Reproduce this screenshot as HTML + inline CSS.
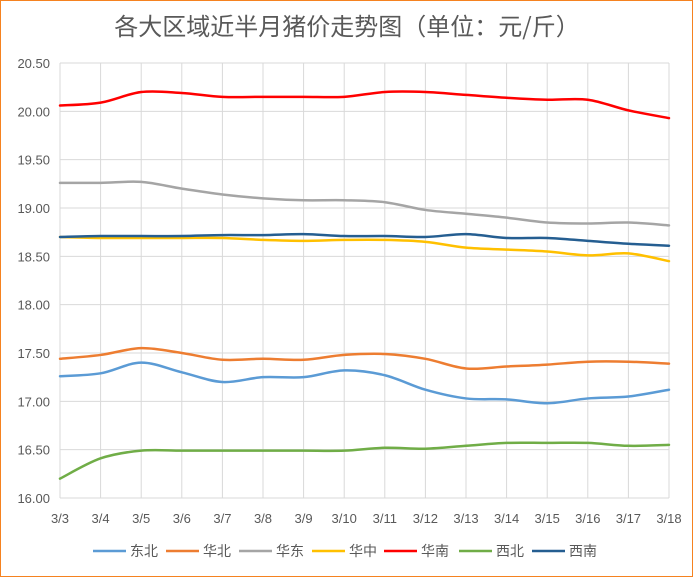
<!DOCTYPE html>
<html><head><meta charset="utf-8"><style>
body{margin:0;background:#fff}
svg{display:block}
text{font-family:"Liberation Sans","Noto Sans CJK SC",sans-serif;fill:#595959}
</style></head><body>
<svg id="s" width="693" height="577" xmlns="http://www.w3.org/2000/svg">
<rect x="0.5" y="0.5" width="692" height="576" fill="#fff" stroke="#F58220" stroke-width="1"/>
<text x="347" y="35" font-size="24" text-anchor="middle" style="font-family:'Noto Sans CJK SC',sans-serif">各大区域近半月猪价走势图（单位：元/斤）</text>
<g id="g"></g>
</svg>
<script>
var L=60,R=669,T=63,B=498;
var g=document.getElementById('g'),h='';
function X(i){return L+(R-L)*i/15}
function Y(v){return B-(v-16)/4.5*(B-T)}
for(var k=0;k<=9;k++){var y=Y(16+k*0.5);h+='<line x1="'+L+'" x2="'+R+'" y1="'+y+'" y2="'+y+'" stroke="#d9d9d9"/>';
h+='<text x="50" y="'+(y+5)+'" font-size="13" text-anchor="end">'+(16+k*0.5).toFixed(2)+'</text>';}
for(var i=0;i<=15;i++){var x=X(i);h+='<line x1="'+x+'" x2="'+x+'" y1="'+T+'" y2="'+B+'" stroke="#d9d9d9"/>';
h+='<text x="'+x+'" y="523" font-size="13" text-anchor="middle">3/'+(i+3)+'</text>';}
var S=[
['#5B9BD5',[17.26,17.29,17.40,17.30,17.20,17.25,17.25,17.32,17.27,17.12,17.03,17.02,16.98,17.03,17.05,17.12]],
['#ED7D31',[17.44,17.48,17.55,17.50,17.43,17.44,17.43,17.48,17.49,17.44,17.34,17.36,17.38,17.41,17.41,17.39]],
['#A5A5A5',[19.26,19.26,19.27,19.20,19.14,19.10,19.08,19.08,19.06,18.98,18.94,18.90,18.85,18.84,18.85,18.82]],
['#FFC000',[18.70,18.69,18.69,18.69,18.69,18.67,18.66,18.67,18.67,18.65,18.59,18.57,18.55,18.51,18.53,18.45]],
['#FF0000',[20.06,20.09,20.20,20.19,20.15,20.15,20.15,20.15,20.20,20.20,20.17,20.14,20.12,20.12,20.01,19.93]],
['#70AD47',[16.20,16.41,16.49,16.49,16.49,16.49,16.49,16.49,16.52,16.51,16.54,16.57,16.57,16.57,16.54,16.55]],
['#255E91',[18.70,18.71,18.71,18.71,18.72,18.72,18.73,18.71,18.71,18.70,18.73,18.69,18.69,18.66,18.63,18.61]]];
S.forEach(function(s){var p=s[1].map(function(v,i){return [X(i),Y(v)]});
var d='M'+p[0][0]+','+p[0][1];
for(var i=0;i<p.length-1;i++){var p0=p[Math.max(0,i-1)],p1=p[i],p2=p[i+1],p3=p[Math.min(p.length-1,i+2)];
var t=1/6;d+=' C'+(p1[0]+(p2[0]-p0[0])*t)+','+(p1[1]+(p2[1]-p0[1])*t)+' '+(p2[0]-(p3[0]-p1[0])*t)+','+(p2[1]-(p3[1]-p1[1])*t)+' '+p2[0]+','+p2[1];}
h+='<path d="'+d+'" fill="none" stroke="'+s[0]+'" stroke-width="2.5" stroke-linecap="round"/>';});
var names=['东北','华北','华东','华中','华南','西北','西南'],lx=[93,166,239,312,384,459,532];
names.forEach(function(n,i){h+='<line x1="'+lx[i]+'" x2="'+(lx[i]+33)+'" y1="551" y2="551" stroke="'+S[i][0]+'" stroke-width="2.5"/>';
h+='<text x="'+(lx[i]+37)+'" y="556" font-size="14" style="font-family:\'Noto Sans CJK SC\',sans-serif">'+n+'</text>';});
g.innerHTML=h;
</script>
</body></html>
